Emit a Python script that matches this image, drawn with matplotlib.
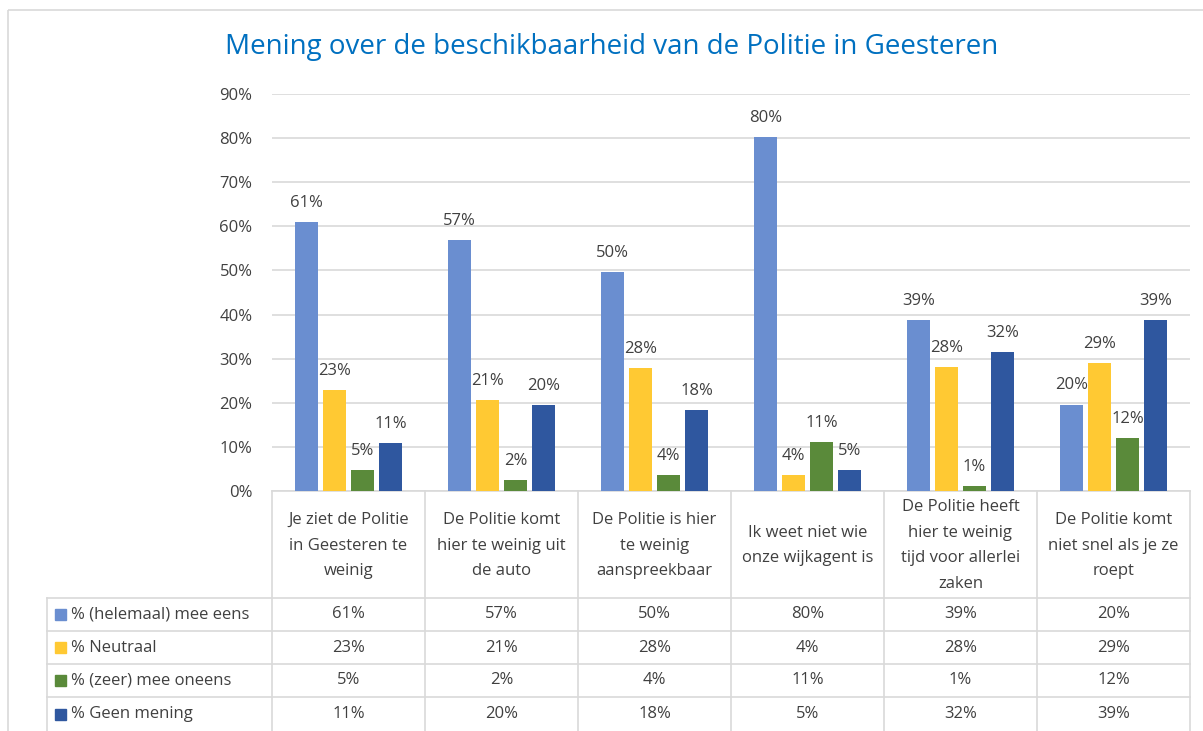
import matplotlib
matplotlib.use("Agg")
import matplotlib.pyplot as plt
import numpy as np
from matplotlib.patches import Rectangle

plt.rcParams['font.family'] = ['Open Sans', 'DejaVu Sans']

title = "Mening over de beschikbaarheid van de Politie in Geesteren"
categories = [
    "Je ziet de Politie\nin Geesteren te\nweinig",
    "De Politie komt\nhier te weinig uit\nde auto",
    "De Politie is hier\nte weinig\naanspreekbaar",
    "Ik weet niet wie\nonze wijkagent is",
    "De Politie heeft\nhier te weinig\ntijd voor allerlei\nzaken",
    "De Politie komt\nniet snel als je ze\nroept",
]
series_names = ["% (helemaal) mee eens", "% Neutraal", "% (zeer) mee oneens", "% Geen mening"]
eens = [61.0, 56.9, 49.7, 80.3, 38.8, 19.6]
neutraal = [22.9, 20.6, 27.9, 3.6, 28.0, 29.1]
oneens = [4.8, 2.5, 3.6, 11.1, 1.1, 12.0]
geen = [10.9, 19.5, 18.4, 4.8, 31.5, 38.8]
series = [eens, neutraal, oneens, geen]
colors = ["#6A8ED0", "#FFC933", "#5A8A3A", "#2F579F"]
yticks = [0, 10, 20, 30, 40, 50, 60, 70, 80, 90]

W, H = 1203, 731
fig = plt.figure(figsize=(W / 100, H / 100), dpi=100)
txt = "#404040"
grid = "#D9D9D9"
fs = 12

# overlay in pixel coords
ov = fig.add_axes([0, 0, 1, 1], zorder=0)
ov.set_xlim(0, W)
ov.set_ylim(H, 0)
ov.axis("off")

# chart border
ov.add_patch(Rectangle((8, 10), W + 10, H + 10, fill=False, ec=grid, lw=1.2))

x0, x1 = 272, 1190
ybase, ytop = 491, 94
ax = fig.add_axes([x0 / W, (H - ybase) / H, (x1 - x0) / W, (ybase - ytop) / H], zorder=1)
ax.patch.set_alpha(0)
n = len(categories)
ax.set_xlim(-0.5, n - 0.5)
ax.set_ylim(0, 90)
ax.set_yticks(yticks)
ax.set_yticklabels([f"{t}%" for t in yticks], fontsize=fs, color=txt)
ax.tick_params(axis="y", length=0, pad=14)
ax.set_xticks([])
for s in ax.spines.values():
    s.set_visible(False)
ax.grid(axis="y", color=grid, lw=1.2)
ax.set_axisbelow(True)

x = np.arange(n)
pitch = 0.184
bw = 0.15
for i, (vals, c) in enumerate(zip(series, colors)):
    off = (i - 1.5) * pitch
    ax.bar(x + off, vals, bw, color=c, zorder=3)
    for xi, v in zip(x + off, vals):
        ax.annotate(f"{round(v):.0f}%", (xi, v), xytext=(0, 8), textcoords="offset points",
                    ha="center", va="bottom", fontsize=fs, color=txt, zorder=4)

fig.text(612 / W, 1 - 47 / H, title, ha="center", va="center", fontsize=20, color="#0070C0")

# table
cols = [ax.transData.transform((i - 0.5, 0))[0] for i in range(n + 1)]
rows = [491, 598, 631, 664, 697, H + 5]
left = 47
lw = 1.2
for c in cols:
    ov.plot([c, c], [rows[0], rows[-1]], color=grid, lw=lw)
ov.plot([left, left], [rows[1], rows[-1]], color=grid, lw=lw)
ov.plot([cols[0], cols[-1]], [rows[0], rows[0]], color=grid, lw=lw)
for r in rows[1:-1]:
    ov.plot([left, cols[-1]], [r, r], color=grid, lw=lw)

for i, cat in enumerate(categories):
    cx = (cols[i] + cols[i + 1]) / 2
    cy = (rows[0] + rows[1]) / 2 + 1
    ov.text(cx, cy, cat, ha="center", va="center", fontsize=fs, color=txt, linespacing=1.78)

for j, (name, vals, c) in enumerate(zip(series_names, series, colors)):
    cy = (rows[j + 1] + min(rows[j + 2], H)) / 2
    ov.add_patch(Rectangle((55, cy - 5.5), 11, 11, color=c))
    ov.text(71, cy, name, ha="left", va="center", fontsize=fs, color=txt)
    for i, v in enumerate(vals):
        cx = (cols[i] + cols[i + 1]) / 2
        ov.text(cx, cy, f"{round(v):.0f}%", ha="center", va="center", fontsize=fs, color=txt)

fig.savefig("out.png", dpi=100)
